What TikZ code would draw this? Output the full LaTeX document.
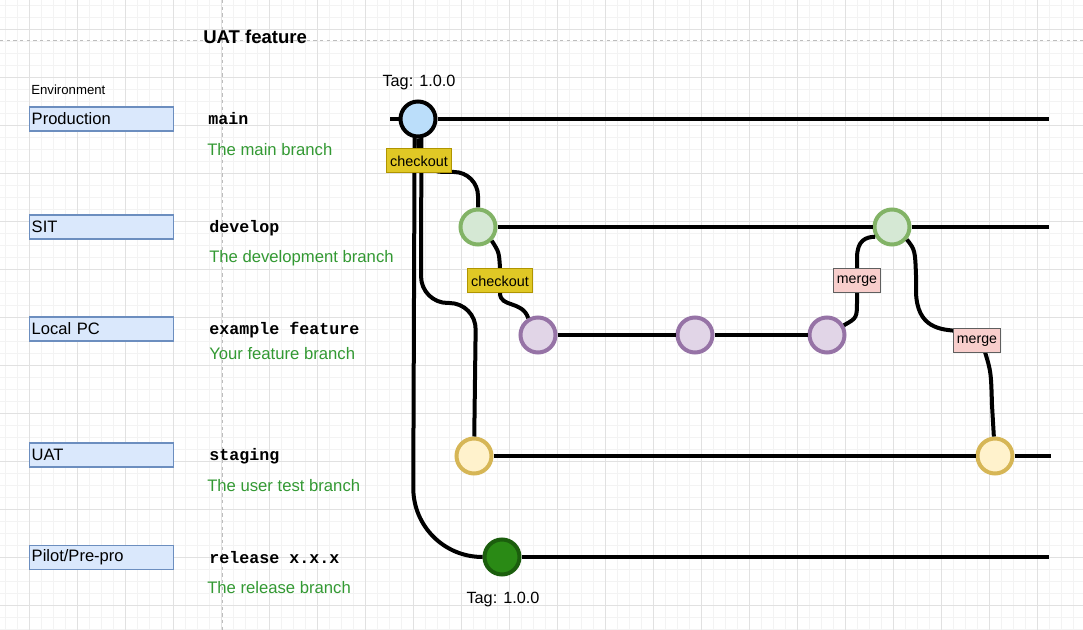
\documentclass[tikz,border=0pt]{standalone}
\usepackage{fontspec}
\setmainfont{Liberation Sans}
\setmonofont{Liberation Mono}
\usepackage{xcolor}
\usepackage{tikz}
\definecolor{cMinor}{HTML}{F3F3F3}
\definecolor{cMajor}{HTML}{E1E1E1}
\definecolor{cGuide}{HTML}{BDBDBD}
\definecolor{envFill}{HTML}{DAE8FC}
\definecolor{envLine}{HTML}{6C8EBF}
\definecolor{descText}{HTML}{339933}
\definecolor{mainFill}{HTML}{BBDEFA}
\definecolor{devFill}{HTML}{D5E8D4}
\definecolor{devLine}{HTML}{82B366}
\definecolor{featFill}{HTML}{E1D5E7}
\definecolor{featLine}{HTML}{9673A6}
\definecolor{stageFill}{HTML}{FFF2CC}
\definecolor{stageLine}{HTML}{D6B656}
\definecolor{relFill}{HTML}{2A8A15}
\definecolor{relLine}{HTML}{1B5E0D}
\definecolor{ckFill}{HTML}{E0C825}
\definecolor{ckLine}{HTML}{B09500}
\definecolor{mgFill}{HTML}{F8CECC}
\definecolor{mgLine}{HTML}{5F5F5F}
\tikzset{
  minorline/.style={cMinor, line width=0.6pt},
  majorline/.style={cMajor, line width=0.6pt},
  guide/.style={cGuide, line width=0.6pt, dash pattern=on 2.5pt off 2.5pt},
  commit/.style={circle, minimum size=26.25pt, inner sep=0pt, line width=3pt},
  branch/.style={line width=3pt},
  conn/.style={line width=3pt},
  envbox/.style={draw=envLine, fill=envFill, line width=0.9pt, anchor=west,
    minimum height=18pt, text width=104.5pt, inner xsep=1.6pt, inner ysep=0pt,
    font=\fontsize{12.4}{14}\selectfont},
  brname/.style={anchor=west, inner sep=0pt, font=\fontsize{12.5}{15}\selectfont\ttfamily\bfseries},
  brdesc/.style={anchor=west, inner sep=0pt, text=descText, font=\fontsize{12.5}{15}\selectfont},
  ckbox/.style={draw=ckLine, fill=ckFill, line width=0.75pt, minimum height=18pt,
    inner xsep=2.6pt, inner ysep=0pt, font=\fontsize{10.8}{12}\selectfont},
  mgbox/.style={draw=mgLine, fill=mgFill, line width=0.75pt, minimum height=18pt,
    inner xsep=2.9pt, inner ysep=0pt, font=\fontsize{10.6}{12}\selectfont},
  tag/.style={inner sep=0pt, font=\fontsize{12.2}{14}\selectfont}
}

\begin{document}
\begin{tikzpicture}[x=0.75pt,y=-0.75pt]
  \useasboundingbox (0,0) rectangle (1083,630);
  \fill[white] (0,0) rectangle (1083,630);

  \foreach \gx in {5,17,...,1083} \draw[minorline] (\gx,0) -- (\gx,630);
  \foreach \gy in {5,17,...,630} \draw[minorline] (0,\gy) -- (1083,\gy);
  \foreach \gx in {29,77,...,1083} \draw[majorline] (\gx,0) -- (\gx,630);
  \foreach \gy in {29,77,...,630} \draw[majorline] (0,\gy) -- (1083,\gy);
  \draw[guide] (0,40) -- (1083,40);
  \draw[guide] (222,0) -- (222,630);

  \node[anchor=west, inner sep=0pt, font=\fontsize{13.9}{16}\selectfont\bfseries] (title) at (203,37) {UAT feature};
  \node[anchor=west, inner sep=0pt, font=\fontsize{9.9}{12}\selectfont] (env) at (31,90) {Environment};

  \node[envbox] (eProd) at (29,119) {Production};
  \node[envbox] (eSit) at (29,227) {SIT};
  \node[envbox] (eLocal) at (29,329) {Local PC};
  \node[envbox] (eUat) at (29,455) {UAT};
  \node[envbox] (ePilot) at (29,557.5) {Pilot/Pre-pro};

  \node[brname] (nMain) at (208,119) {main};
  \node[brname] (nDev) at (209,228) {develop};
  \node[brname] (nFeat) at (209,330) {example feature};
  \node[brname] (nStage) at (209,456) {staging};
  \node[brname] (nRel) at (209,558) {release x.x.x};

  \node[brdesc] (dMain) at (207,150) {The main branch};
  \node[brdesc] (dDev) at (209,258) {The development branch};
  \node[brdesc] (dFeat) at (209,354) {Your feature branch};
  \node[brdesc] (dStage) at (207,486) {The user test branch};
  \node[brdesc] (dRel) at (207,588) {The release branch};

  \node[commit, draw=black, fill=mainFill] (M) at (418,119) {};
  \node[commit, draw=devLine, fill=devFill] (D1) at (478,227) {};
  \node[commit, draw=devLine, fill=devFill] (D2) at (892,227) {};
  \node[commit, draw=featLine, fill=featFill] (F1) at (538,335) {};
  \node[commit, draw=featLine, fill=featFill] (F2) at (695,335) {};
  \node[commit, draw=featLine, fill=featFill] (F3) at (827,335) {};
  \node[commit, draw=stageLine, fill=stageFill] (S1) at (474,456) {};
  \node[commit, draw=stageLine, fill=stageFill] (S2) at (995,456) {};
  \node[commit, draw=relLine, fill=relFill] (R) at (502,557) {};

  \node[tag] (tagM) at (419,83) {Tag: 1.0.0};
  \node[tag] (tagR) at (503,600) {Tag: 1.0.0};

  \coordinate (mainL) at (390,119);
  \coordinate (mainR) at (1049,119);
  \coordinate (devR) at (1049,227);
  \coordinate (stageR) at (1051,456);
  \coordinate (relR) at (1049,557);

  \draw[branch] (mainL) -- (M) (M) -- (mainR);
  \draw[branch] (D1) -- (D2) (D2) -- (devR);
  \draw[branch] (F1) -- (F2) (F2) -- (F3);
  \draw[branch] (S1) -- (S2) (S2) -- (stageR);
  \draw[branch] (R) -- (relR);

  \draw[conn, rounded corners=52pt] (M.-100) -- (413,557) -- (R);
  \draw[conn, rounded corners=20pt] (M.-80) -- (421,303) -- (476,303) -- (S1);
  \draw[conn, rounded corners=18pt] (M) -- (419,172) -- (478,172) -- (D1);
  \draw[conn] (D1.-45) .. controls (499,252) .. (500,268) -- (500,293)
    .. controls (500,308) and (522,300) .. (F1.120);
  \draw[conn] (F3.30) .. controls (857,318) .. (857,300) -- (857,258)
    .. controls (857,240) and (866,237) .. (D2.210);
  \draw[conn] (D2.-40) .. controls (915,250) .. (916,275) -- (916,292)
    .. controls (917,328) and (940,330) .. (960,331) -- (985,352)
    .. controls (991,372) .. (992,405) -- (S2);

  \node[ckbox] (ck1) at (419,161) {checkout};
  \node[ckbox] (ck2) at (500,281) {checkout};
  \node[mgbox] (mg1) at (857,281) {merge};
  \node[mgbox] (mg2) at (977,341) {merge};
\end{tikzpicture}
\end{document}
